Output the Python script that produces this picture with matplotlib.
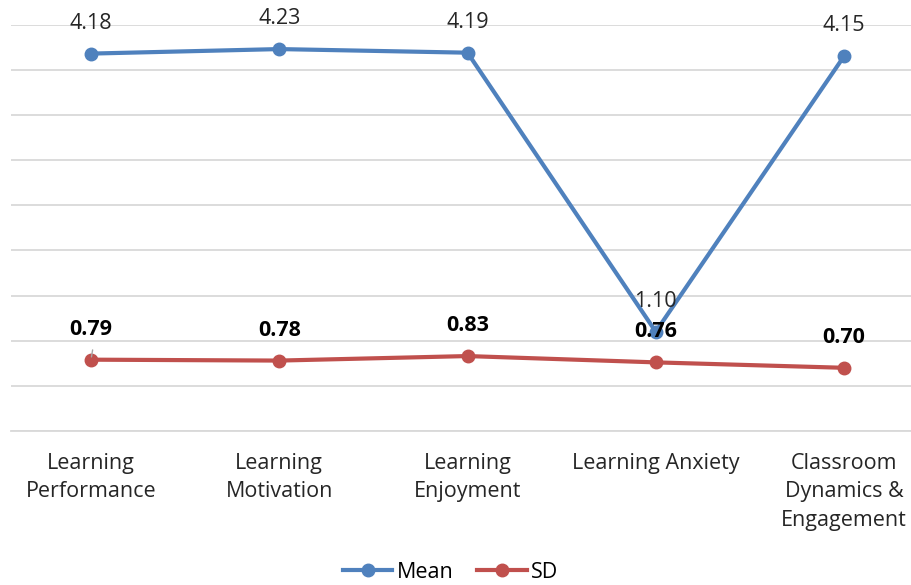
import matplotlib.pyplot as plt

plt.rcParams['font.family'] = ['Open Sans', 'DejaVu Sans']

categories = ["Learning\nPerformance", "Learning\nMotivation", "Learning\nEnjoyment",
              "Learning Anxiety", "Classroom\nDynamics &\nEngagement"]
mean_vals = [4.18, 4.23, 4.19, 1.10, 4.15]
sd_vals = [0.79, 0.78, 0.83, 0.76, 0.70]

blue = "#4F81BD"
red = "#C0504D"

fig = plt.figure(figsize=(9.12, 5.85), dpi=100)
ax = fig.add_axes([11 / 912, 1 - 431 / 585, 1 - 11 / 912, (431 - 24.7) / 585])

x = list(range(len(categories)))
ax.plot(x, mean_vals, color=blue, lw=3, marker="o", ms=9, label="Mean", zorder=3)
ax.plot(x, sd_vals, color=red, lw=3, marker="o", ms=9, label="SD", zorder=3)

for xi, v in zip(x, mean_vals):
    ax.annotate(f"{v:.2f}", (xi, v), xytext=(0, 22), textcoords="offset points",
                ha="center", va="center", fontsize=15.5, color="#262626", zorder=4)
for xi, v in zip(x, sd_vals):
    ax.annotate(f"{v:.2f}", (xi, v), xytext=(0, 22), textcoords="offset points",
                ha="center", va="center", fontsize=15.5, fontweight="bold", color="black", zorder=5)
# small leader line on the first SD label
ax.annotate("", (0, sd_vals[0]), xytext=(1.5, 9), textcoords="offset points",
            arrowprops=dict(arrowstyle="-", color="#A6A6A6", lw=1), zorder=4)

ax.set_ylim(0, 4.5)
ax.set_yticks([i * 0.5 for i in range(10)])
ax.set_xlim(-80 / 188.25, 4 + 68 / 188.25)
ax.set_xticks(x)
ax.set_xticklabels(categories, fontsize=15.5, color="#262626", linespacing=1.45)
ax.tick_params(axis="x", length=0, pad=16)
ax.tick_params(axis="y", length=0, labelleft=False)
ax.grid(axis="y", color="#D9D9D9", lw=1.3)
ax.set_axisbelow(True)
for s in ["top", "right", "left"]:
    ax.spines[s].set_visible(False)
ax.spines["bottom"].set_color("#D9D9D9")
ax.spines["bottom"].set_linewidth(1.3)

fig.legend(loc="center", bbox_to_anchor=(0.494, 1 - 572 / 585), ncol=2, frameon=False,
           fontsize=15.5, handlelength=2.3, columnspacing=1.1, handletextpad=0.2)

fig.savefig("out.png", dpi=100)
